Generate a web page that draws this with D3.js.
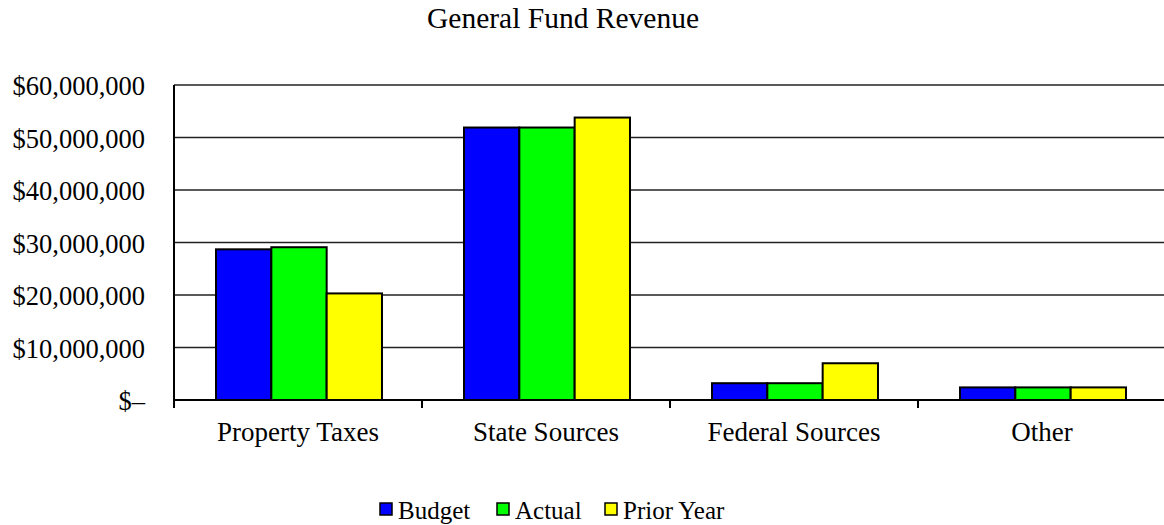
<!DOCTYPE html>
<html>
<head>
<meta charset="utf-8">
<script src="https://cdn.jsdelivr.net/npm/d3@7"></script>
<style>
  body { margin: 0; background: #fff; }
  svg text { font-family: "Liberation Serif", "DejaVu Serif", serif; }
</style>
</head>
<body>
<script>
// General Fund Revenue
const categories = ["Property Taxes", "State Sources", "Federal Sources", "Other"];
const seriesNames = ["Budget", "Actual", "Prior Year"];
const budget = [28700000, 51900000, 3200000, 2400000];
const actual = [29100000, 51900000, 3200000, 2400000];
const priorYear = [20300000, 53800000, 7000000, 2400000];
const yTicks = [0, 10000000, 20000000, 30000000, 40000000, 50000000, 60000000];
const colors = ["#0000ff", "#00ff00", "#ffff00"];

const width = 1164;
const height = 525;
const marginTop = 85;
const marginRight = 0;
const marginBottom = 125;
const marginLeft = 174;
const fontFamily = "'Liberation Serif', 'DejaVu Serif', serif";

const svg = d3.select("body").append("svg")
  .attr("width", width)
  .attr("height", height)
  .attr("font-family", fontFamily);

const x = d3.scaleBand()
  .domain(categories)
  .range([marginLeft, width - marginRight + 2]);

const xInner = d3.scaleBand()
  .domain(seriesNames)
  .range([0, 166]);

const y = d3.scaleLinear()
  .domain([0, 60000000])
  .range([height - marginBottom, marginTop]);

// gridlines
svg.append("g")
  .selectAll("line")
  .data(yTicks)
  .join("line")
  .attr("x1", marginLeft)
  .attr("x2", width)
  .attr("y1", d => y(d))
  .attr("y2", d => y(d))
  .attr("stroke", "#222")
  .attr("stroke-width", 1.6);

// y tick labels
const fmt = d => d === 0 ? "$\u2013" : "$" + d3.format(",")(d);
svg.append("g")
  .selectAll("text")
  .data(yTicks)
  .join("text")
  .attr("x", 145)
  .attr("y", d => y(d) + 10)
  .attr("text-anchor", "end")
  .attr("font-size", 26.5)
  .attr("fill", "#000")
  .text(fmt);

// bars
const rows = categories.map((c, i) => ({ cat: c, values: [budget[i], actual[i], priorYear[i]] }));

const groups = svg.append("g")
  .selectAll("g")
  .data(rows)
  .join("g")
  .attr("transform", d => `translate(${x(d.cat) + (x.bandwidth() - 166) / 2 + 1},0)`);

groups.selectAll("rect")
  .data(d => d.values.map((v, j) => ({ name: seriesNames[j], value: v, color: colors[j] })))
  .join("rect")
  .attr("x", d => xInner(d.name))
  .attr("y", d => y(d.value))
  .attr("width", xInner.bandwidth())
  .attr("height", d => y(0) - y(d.value))
  .attr("fill", d => d.color)
  .attr("stroke", "#000")
  .attr("stroke-width", 2);

// axes lines
svg.append("line")
  .attr("x1", marginLeft).attr("x2", marginLeft)
  .attr("y1", marginTop).attr("y2", y(0) + 8)
  .attr("stroke", "#000").attr("stroke-width", 2);

svg.append("line")
  .attr("x1", marginLeft).attr("x2", width)
  .attr("y1", y(0)).attr("y2", y(0))
  .attr("stroke", "#000").attr("stroke-width", 2);

// category ticks between bands
svg.append("g")
  .selectAll("line")
  .data(categories.slice(1))
  .join("line")
  .attr("x1", d => x(d)).attr("x2", d => x(d))
  .attr("y1", y(0)).attr("y2", y(0) + 8)
  .attr("stroke", "#000").attr("stroke-width", 2);

// category labels
svg.append("g")
  .selectAll("text")
  .data(categories)
  .join("text")
  .attr("x", d => x(d) + x.bandwidth() / 2)
  .attr("y", 441)
  .attr("text-anchor", "middle")
  .attr("font-size", 27)
  .text(d => d);

// title
svg.append("text")
  .attr("x", 563)
  .attr("y", 28)
  .attr("text-anchor", "middle")
  .attr("font-size", 29.5)
  .text("General Fund Revenue");

// legend
const legendX = [380, 497, 605];
const legend = svg.append("g")
  .selectAll("g")
  .data(seriesNames)
  .join("g")
  .attr("transform", (d, i) => `translate(${legendX[i]},503)`);

legend.append("rect")
  .attr("width", 12)
  .attr("height", 12)
  .attr("fill", (d, i) => colors[i])
  .attr("stroke", "#000")
  .attr("stroke-width", 1.5);

legend.append("text")
  .attr("x", 18)
  .attr("y", 16)
  .attr("font-size", 25)
  .text(d => d);
</script>
</body>
</html>
